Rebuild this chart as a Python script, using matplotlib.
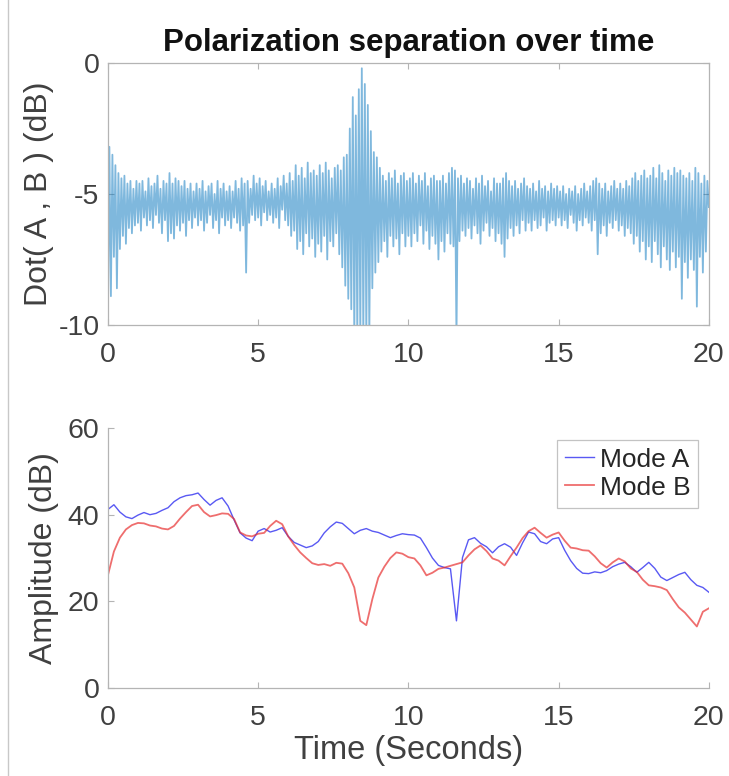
import numpy as np
import matplotlib
matplotlib.use("Agg")
import matplotlib.pyplot as plt
from matplotlib.lines import Line2D

plt.rcParams['font.family'] = ['Liberation Sans', 'DejaVu Sans']
plt.rcParams['axes.unicode_minus'] = False

# ---- top panel: dot product, alternating trough / peak every 0.05 s ----
dot_rows = [
    [-9.9, -3.2, -8.9, -3.5, -7.4, -3.9, -8.6, -4.2, -7.1, -4.4, -6.6, -4.3, -6.9, -4.6, -6.3, -4.5, -6.5, -4.8, -6.2, -4.5],
    [-6.1, -4.6, -6.4, -4.5, -5.9, -4.9, -6.2, -4.4, -6.0, -4.7, -6.3, -4.6, -5.8, -4.3, -6.1, -4.8, -6.5, -4.5, -6.0, -4.6],
    [-6.8, -4.2, -6.5, -4.6, -6.7, -4.4, -6.2, -4.5, -6.4, -4.7, -6.1, -4.5, -6.6, -4.8, -6.0, -4.6, -6.3, -4.9, -5.9, -4.6],
    [-6.2, -4.8, -6.0, -4.5, -6.4, -4.9, -6.1, -4.7, -5.8, -4.6, -6.3, -5.0, -6.0, -4.5, -6.5, -4.8, -5.9, -4.6, -6.2, -4.9],
    [-6.0, -4.7, -6.3, -4.9, -5.9, -4.5, -6.1, -4.8, -6.4, -4.4, -6.2, -4.6, -8.0, -4.5, -6.1, -4.8, -5.8, -4.3, -6.0, -4.6],
    [-5.9, -4.4, -6.2, -4.7, -5.7, -4.5, -6.0, -4.9, -5.8, -4.6, -6.1, -4.8, -5.9, -4.4, -6.3, -4.7, -5.6, -4.3, -6.0, -4.6],
    [-6.2, -4.2, -6.6, -4.5, -6.4, -3.9, -7.1, -4.3, -6.8, -4.0, -7.3, -4.4, -6.5, -3.8, -7.0, -4.2, -6.7, -4.1, -7.4, -4.3],
    [-6.9, -3.9, -7.2, -4.2, -6.6, -3.8, -7.5, -4.1, -6.8, -4.4, -7.0, -4.0, -6.5, -3.9, -7.3, -4.1, -7.8, -3.6, -8.5, -3.5],
    [-9.0, -2.5, -9.4, -1.3, -10.5, -2.0, -10.5, -1.0, -10.5, -0.2, -10.5, -0.8, -10.5, -1.6, -10.5, -2.6, -8.6, -3.4, -8.0, -3.6],
    [-7.6, -4.0, -7.2, -4.3, -6.8, -4.5, -7.4, -4.2, -6.6, -4.4, -7.0, -4.1, -6.7, -4.6, -7.3, -4.3, -6.5, -4.2, -7.0, -4.5],
    [-6.6, -4.4, -7.0, -4.2, -6.5, -4.6, -6.8, -4.3, -6.2, -4.5, -6.9, -4.2, -6.4, -4.7, -7.1, -4.4, -6.6, -4.3, -6.9, -4.5],
    [-7.5, -4.5, -6.8, -4.3, -7.2, -4.6, -6.5, -4.2, -6.9, -4.0, -7.0, -4.1, -10.5, -4.4, -6.8, -4.3, -6.4, -4.6, -6.6, -4.4],
    [-6.3, -4.5, -6.7, -4.8, -6.2, -4.4, -6.5, -4.6, -6.9, -4.3, -6.4, -4.7, -6.1, -4.5, -6.6, -4.9, -6.3, -4.4, -6.8, -4.6],
    [-6.5, -4.6, -6.9, -4.4, -7.4, -4.2, -6.7, -4.5, -6.3, -4.7, -6.6, -4.5, -6.2, -4.8, -6.5, -4.6, -6.0, -4.4, -6.4, -4.7],
    [-6.1, -4.8, -6.4, -4.6, -6.0, -4.9, -6.3, -4.5, -6.2, -4.8, -5.9, -4.7, -6.4, -4.9, -6.1, -4.6, -6.0, -4.8, -6.2, -4.7],
    [-5.9, -4.9, -6.2, -4.7, -6.0, -5.0, -6.3, -4.8, -5.8, -4.9, -6.1, -4.7, -6.4, -5.0, -6.0, -4.8, -6.2, -4.6, -5.9, -4.9],
    [-6.1, -4.7, -6.4, -4.5, -6.0, -4.4, -7.3, -4.6, -6.5, -4.8, -6.2, -4.6, -6.6, -4.9, -6.1, -4.7, -6.3, -4.5, -6.0, -4.8],
    [-6.4, -4.6, -6.2, -4.8, -6.6, -4.5, -6.3, -4.7, -6.5, -4.4, -6.9, -4.2, -6.6, -4.5, -7.2, -4.3, -6.8, -4.1, -7.5, -4.4],
    [-7.0, -4.3, -7.6, -4.0, -6.8, -4.4, -7.3, -3.9, -7.8, -4.2, -7.0, -4.5, -7.5, -4.1, -7.9, -4.3, -7.2, -4.0, -7.8, -4.2],
    [-7.4, -4.1, -9.0, -4.3, -7.6, -4.4, -8.2, -4.2, -7.5, -4.5, -7.9, -4.0, -9.3, -4.2, -7.4, -4.6, -8.0, -4.3, -7.2, -4.5],
]
dot_end = [-5.5]

# ---- bottom panel: mode amplitudes every 0.2 s ----
mode_a = [
    41.2, 42.3, 40.6, 39.5, 39.1, 39.9, 40.5, 40.0, 40.3, 41.0,
    41.6, 43.0, 43.9, 44.4, 44.6, 45.0, 43.5, 42.2, 43.3, 43.9,
    42.0, 38.8, 35.8, 34.6, 34.0, 36.2, 36.8, 36.0, 36.4, 37.0,
    35.0, 33.6, 33.0, 32.4, 32.8, 33.8, 35.8, 37.2, 38.3, 38.0,
    36.8, 35.6, 36.4, 36.8, 36.2, 35.9, 35.3, 34.7, 35.2, 35.6,
    35.4, 35.3, 34.6, 32.4, 30.0, 28.3, 27.8, 27.5, 15.5, 30.1,
    34.2, 34.7, 33.4, 32.6, 31.2, 32.6, 33.3, 32.5, 30.6, 33.5,
    36.0, 35.6, 33.8, 33.3, 34.4, 34.7, 31.8, 29.4, 27.6, 26.5,
    26.4, 26.8, 26.6, 27.1, 28.0, 28.6, 29.0, 28.0, 26.7, 27.8,
    29.0, 27.6, 25.6, 24.8, 25.5, 26.2, 26.7, 25.0, 23.7, 23.2,
    22.1,
]
mode_b = [
    26.0, 31.5, 34.7, 36.6, 37.6, 38.1, 38.0, 37.5, 37.3, 36.8,
    36.6, 37.4, 39.1, 40.6, 42.0, 42.3, 40.6, 39.6, 39.9, 40.3,
    40.2, 39.0, 35.9, 35.2, 35.0, 35.6, 35.8, 37.4, 38.6, 37.8,
    35.0, 33.0, 31.3, 30.0, 28.8, 28.4, 28.6, 28.2, 28.9, 28.7,
    26.5, 23.2, 15.5, 14.5, 20.5, 25.5, 28.0, 30.0, 31.3, 31.0,
    30.2, 29.9, 28.3, 26.0, 26.6, 27.5, 27.8, 28.2, 28.6, 29.0,
    30.6, 32.0, 32.9, 31.6, 29.9, 29.4, 28.3, 30.4, 32.4, 34.6,
    36.2, 37.0, 35.8, 34.7, 35.4, 35.9, 34.0, 32.4, 32.2, 31.8,
    31.7, 30.4, 28.8, 27.8, 29.0, 29.9, 29.2, 27.6, 26.8, 25.0,
    23.7, 23.5, 23.2, 22.6, 20.5, 18.6, 17.4, 15.8, 14.2, 17.6,
    18.4,
]

x_ticks = [0, 5, 10, 15, 20]
top_yticks = [-10, -5, 0]
bottom_yticks = [0, 20, 40, 60]

dot_vals = np.array([v for row in dot_rows for v in row] + dot_end)
t_dot = np.linspace(0, 20, len(dot_vals))
t_mode = np.linspace(0, 20, len(mode_a))

tick_col = '#404040'
spine_col = '#b4b4b4'

fig = plt.figure(figsize=(7.29, 7.76), dpi=100)
ax1 = fig.add_axes([0.148, 0.5812, 0.8244, 0.3376])
ax2 = fig.add_axes([0.148, 0.1134, 0.8244, 0.335])

ax1.plot(t_dot, dot_vals, color='#0072BD', lw=1.3, alpha=0.5)
ax1.set_xlim(0, 20)
ax1.set_ylim(-10, 0)
ax1.set_xticks(x_ticks)
ax1.set_yticks(top_yticks)
ax1.set_ylabel('Dot( A , B ) (dB)', fontsize=23, color=tick_col, labelpad=3)
ax1.set_title('Polarization separation over time', fontsize=22.5,
              fontweight='bold', color='#111111', pad=9)

ax2.plot(t_mode, mode_a, color='#3030f0', lw=1.0, alpha=0.8, label='Mode A')
ax2.plot(t_mode, mode_b, color='#e83030', lw=1.3, alpha=0.7, label='Mode B')
ax2.set_xlim(0, 20)
ax2.set_ylim(0, 60)
ax2.set_xticks(x_ticks)
ax2.set_yticks(bottom_yticks)
ax2.set_xlabel('Time (Seconds)', fontsize=23.5, color=tick_col, labelpad=3)
ax2.set_ylabel('Amplitude (dB)', fontsize=23, color=tick_col, labelpad=6)
ax2.spines['top'].set_visible(False)
ax2.spines['right'].set_visible(False)
leg = ax2.legend(loc='upper right', bbox_to_anchor=(0.982, 0.955), fontsize=19,
                 frameon=True, fancybox=False, handlelength=1.1,
                 handletextpad=0.2, borderpad=0.3, labelspacing=0.15,
                 borderaxespad=0.0)
leg.get_frame().set_edgecolor(spine_col)
leg.get_frame().set_linewidth(0.9)
for txt in leg.get_texts():
    txt.set_color('#262626')

for ax in (ax1, ax2):
    for sp in ax.spines.values():
        sp.set_color(spine_col)
        sp.set_linewidth(0.9)
    ax.tick_params(direction='in', length=4, width=0.8, color=spine_col,
                   labelsize=20.5, labelcolor=tick_col,
                   top=(ax is ax1), right=(ax is ax1))
    ax.tick_params(axis='x', pad=12)
    ax.tick_params(axis='y', pad=6)

# thin page border seen at the left of the picture
fig.add_artist(Line2D([8 / 729, 8 / 729], [0, 1], color='#c8c8c8', lw=1.0))

fig.savefig('out.png', dpi=100)
